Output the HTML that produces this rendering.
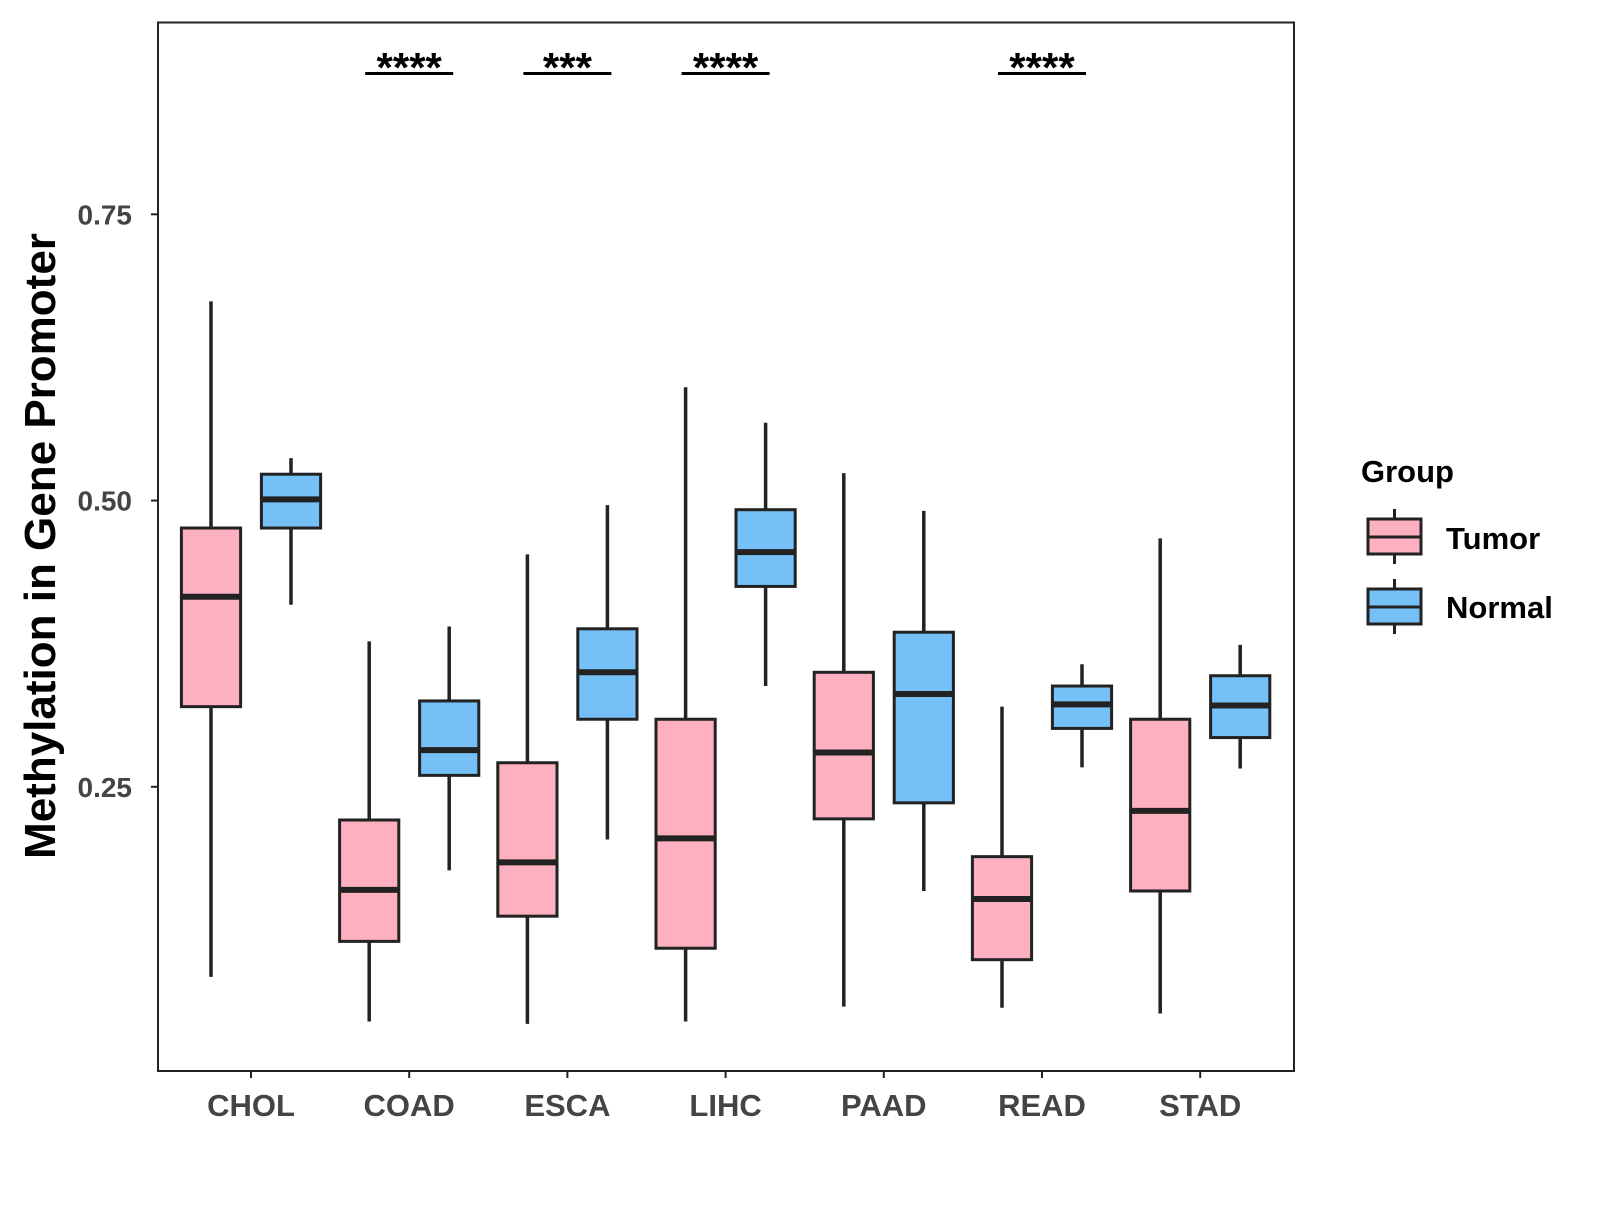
<!DOCTYPE html>
<html><head><meta charset="utf-8"><style>
body{margin:0;background:#fff;}
svg text{font-family:"Liberation Sans",Arial,sans-serif;font-weight:bold;}
</style></head><body>
<svg id="chart" width="1600" height="1200" xmlns="http://www.w3.org/2000/svg">
<rect x="158" y="22.5" width="1136" height="1048.5" fill="#fff" stroke="#222" stroke-width="2"/>
<g id="marks"></g>
<text x="55" y="546" font-size="44" fill="#000" text-anchor="middle" transform="rotate(-90 55 546)">Methylation in Gene Promoter</text>
<g>
<text x="1361" y="482" font-size="31" fill="#000">Group</text>
<g>
<line x1="1394.5" y1="509" x2="1394.5" y2="564" stroke="#222" stroke-width="3"/>
<rect x="1368" y="519" width="53" height="35" fill="#fdb0c0" stroke="#222" stroke-width="3"/>
<line x1="1368" y1="537" x2="1421" y2="537" stroke="#222" stroke-width="3"/>
<text x="1446" y="549" font-size="31" fill="#000">Tumor</text></g>
<g>
<line x1="1394.5" y1="579" x2="1394.5" y2="634" stroke="#222" stroke-width="3"/>
<rect x="1368" y="589" width="53" height="35" fill="#75c1f7" stroke="#222" stroke-width="3"/>
<line x1="1368" y1="607" x2="1421" y2="607" stroke="#222" stroke-width="3"/>
<text x="1446" y="618" font-size="31" fill="#000">Normal</text></g>
</g>
</svg>
<script>
const categories=["CHOL","COAD","ESCA","LIHC","PAAD","READ","STAD"];
// [low, q1, median, q3, high]
const tumorStats=[[0.084,0.320,0.416,0.476,0.674],[0.045,0.115,0.160,0.221,0.377],[0.043,0.137,0.184,0.271,0.453],[0.045,0.109,0.205,0.309,0.599],[0.058,0.222,0.280,0.350,0.524],[0.057,0.099,0.152,0.189,0.320],[0.052,0.159,0.229,0.309,0.467]];
const normalStats=[[0.409,0.476,0.501,0.523,0.537],[0.177,0.260,0.282,0.325,0.390],[0.204,0.309,0.350,0.388,0.496],[0.338,0.425,0.455,0.492,0.568],[0.159,0.236,0.331,0.385,0.491],[0.267,0.301,0.322,0.338,0.357],[0.266,0.293,0.321,0.347,0.374]];
const signif=["","****","***","****","","****",""];
const yTicks=[0.25,0.50,0.75];
const yTickLabels=["0.25","0.50","0.75"];
const NS="http://www.w3.org/2000/svg";
const y=v=>786.8-(v-0.25)*1145;
const x=i=>251+i*158.2;
const g=document.getElementById('marks');
function mk(t,a,p){const e=document.createElementNS(NS,t);for(const k in a)e.setAttribute(k,a[k]);(p||g).appendChild(e);return e;}
yTicks.forEach((v,i)=>{
 const l=mk('line',{x1:151,x2:158,y1:y(v),y2:y(v),stroke:'#222','stroke-width':2});
 
 
 const t=mk('text',{x:132,y:y(v)+10,'font-size':28,fill:'#444','text-anchor':'end'});t.textContent=yTickLabels[i];
 
 
});
function box(s,cx,fill,name){
 const grp=mk('g',{});
 
 
 const hw=29.6;
 mk('line',{x1:cx,x2:cx,y1:y(s[4]),y2:y(s[0]),stroke:'#222','stroke-width':3.5},grp);
 mk('rect',{x:cx-hw,y:y(s[3]),width:2*hw,height:y(s[1])-y(s[3]),fill:fill,stroke:'#222','stroke-width':3},grp);
 mk('line',{x1:cx-hw,x2:cx+hw,y1:y(s[2]),y2:y(s[2]),stroke:'#222','stroke-width':6},grp);
}
categories.forEach((c,i)=>{
 const cx=x(i);
 box(tumorStats[i],cx-40,'#fdb0c0','box-tumor-'+c.toLowerCase());
 box(normalStats[i],cx+40,'#75c1f7','box-normal-'+c.toLowerCase());
 const tk=mk('line',{x1:cx,x2:cx,y1:1071,y2:1078,stroke:'#222','stroke-width':2});
 
 
 const t=mk('text',{x:cx,y:1116,'font-size':31,fill:'#444','text-anchor':'middle'});t.textContent=c;
 
 
 if(signif[i]){
  const sl=mk('line',{x1:cx-44,x2:cx+44,y1:73.5,y2:73.5,stroke:'#000','stroke-width':3});
  
  
  const st=mk('text',{x:cx,y:82,'font-size':42,fill:'#000','text-anchor':'middle'});st.textContent=signif[i];
  
  
 }
});
</script>
</body></html>
